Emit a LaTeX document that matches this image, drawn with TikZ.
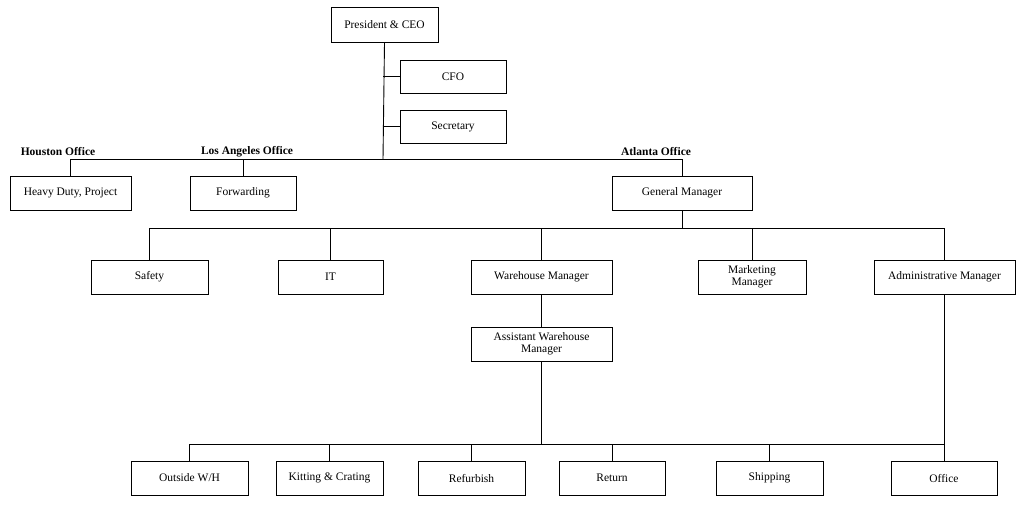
\documentclass[tikz,border=0pt]{standalone}
\usepackage{fontspec}
\setmainfont{Liberation Serif}
\begin{document}
\begin{tikzpicture}[x=1pt,y=-1pt,
  box/.style={draw,line width=0.9pt,align=center,inner sep=1pt,font=\fontsize{11.5}{12}\selectfont},
  lbl/.style={font=\bfseries\fontsize{11.5}{12}\selectfont,inner sep=0pt},
  ln/.style={line width=0.9pt}]
\useasboundingbox (0,0) rectangle (1024,512);
\newcommand{\bx}[6]{\node[box,minimum width=#4-#3,minimum height=#6-#5] (#1) at ({(#3+#4)/2},{(#5+#6)/2}) {#2};}
\bx{ceo}{President \& CEO}{331}{438}{7}{42}
\bx{cfo}{CFO}{400}{506}{60}{93}
\bx{sec}{Secretary}{400}{506}{110}{143}
\bx{hou}{Heavy Duty, Project}{10}{131}{176}{210}
\bx{fwd}{Forwarding}{190}{296}{176}{210}
\bx{gm}{General Manager}{612}{752}{176}{210}
\bx{saf}{Safety}{91}{208}{260}{294}
\bx{it}{IT}{278}{383}{260}{294}
\bx{wm}{Warehouse Manager}{471}{612}{260}{294}
\bx{mm}{Marketing\\Manager}{698}{806}{260}{294}
\bx{am}{Administrative Manager}{874}{1015}{260}{294}
\bx{awm}{Assistant Warehouse\\Manager}{471}{612}{327}{361}
\bx{ow}{Outside W/H}{131}{248}{461}{495}
\bx{kc}{Kitting \& Crating}{276}{383}{461}{495}
\bx{ref}{Refurbish}{418}{525}{461}{495}
\bx{ret}{Return}{559}{665}{461}{495}
\bx{shp}{Shipping}{716}{823}{461}{495}
\bx{off}{Office}{891}{997}{461}{495}
\node[lbl] (lh) at (58,152) {Houston Office};
\node[lbl] (ll) at (247,152) {Los Angeles Office};
\node[lbl] (la) at (656,152) {Atlanta Office};
\coordinate (j1) at (383,159);
\draw[ln] (ceo.south) -- (j1);
\draw[ln] (cfo.west) -- (cfo.west -| j1);
\draw[ln] (sec.west) -- (sec.west -| j1);
\draw[ln] (hou.north) -- (hou.north |- j1) -- (gm.north |- j1) -- (gm.north);
\draw[ln] (fwd.north) -- (fwd.north |- j1);
\coordinate (j2) at (682,228);
\draw[ln] (gm.south) -- (j2);
\draw[ln] (saf.north) -- (saf.north |- j2) -- (944,228) -- (944,260);
\draw[ln] (it.north) -- (it.north |- j2);
\draw[ln] (wm.north) -- (wm.north |- j2);
\draw[ln] (mm.north) -- (mm.north |- j2);
\draw[ln] (wm.south) -- (awm.north);
\coordinate (j3) at (541.5,444);
\draw[ln] (awm.south) -- (j3);
\draw[ln] (944,294) -- (944,461);
\draw[ln] (ow.north) -- (ow.north |- j3) -- (944,444);
\foreach \n in {kc,ref,ret,shp} \draw[ln] (\n.north) -- (\n.north |- j3);
\end{tikzpicture}
\end{document}
